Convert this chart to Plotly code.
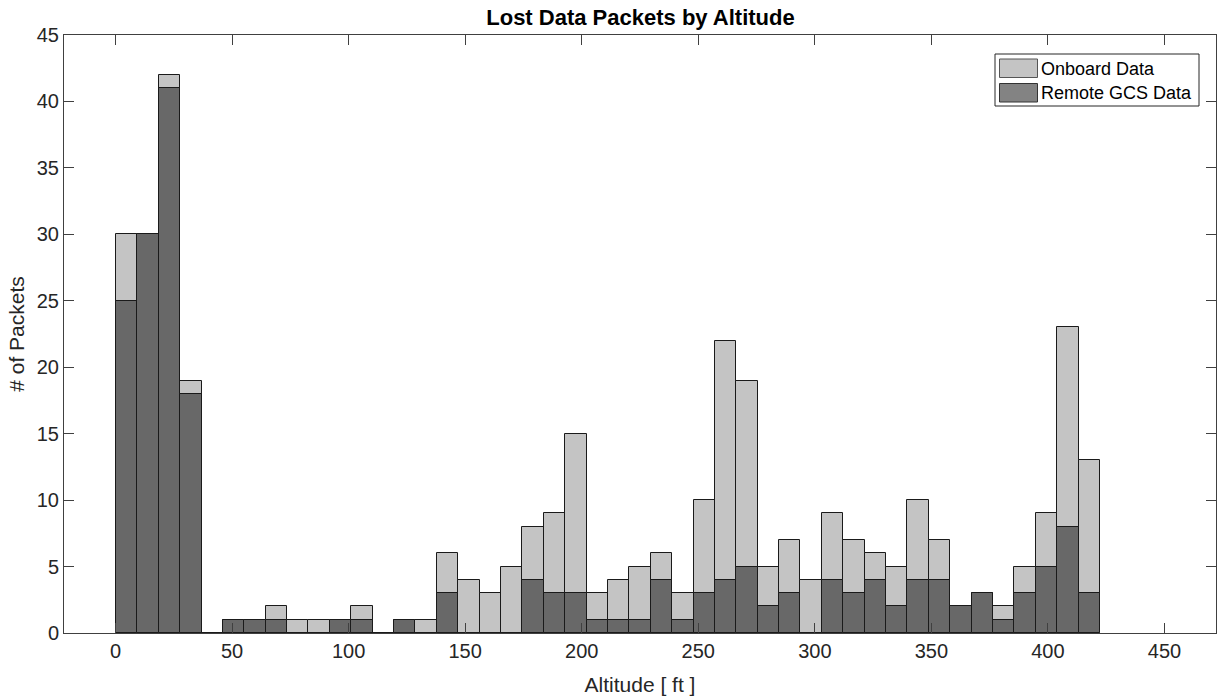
import plotly.graph_objects as go

# ---- data (histogram counts) ----
BIN_START = 0.2      # ft, first bin edge
BIN_WIDTH = 9.176    # ft
onboard_counts = [30, 30, 42, 19, 0, 1, 1, 2, 1, 1, 1, 2, 0, 1, 1, 6, 4, 3, 5, 8,
                  9, 15, 3, 4, 5, 6, 3, 10, 22, 19, 5, 7, 4, 9, 7, 6, 5, 10, 7, 2,
                  3, 2, 5, 9, 23, 13]
remote_counts = [25, 30, 41, 18, 0, 1, 1, 1, 0, 0, 1, 1, 0, 1, 0, 3, 0, 0, 0, 4,
                 3, 3, 1, 1, 1, 4, 1, 3, 4, 5, 2, 3, 0, 4, 3, 4, 2, 4, 4, 2,
                 3, 1, 3, 5, 8, 3]
x_ticks = [0, 50, 100, 150, 200, 250, 300, 350, 400, 450]
y_ticks = [0, 5, 10, 15, 20, 25, 30, 35, 40, 45]
series_names = ["Onboard Data", "Remote GCS Data"]

centers = [BIN_START + (i + 0.5) * BIN_WIDTH for i in range(len(onboard_counts))]

LIGHT = "#c4c4c4"
DARK = "#686868"
DARK_LEG = "#838383"
EDGE = "#1a1a1a"
FONT = "Liberation Sans, Arial, sans-serif"

fig = go.Figure()
fig.add_trace(go.Bar(x=centers, y=onboard_counts, width=BIN_WIDTH, name=series_names[0],
                     marker=dict(color=LIGHT, line=dict(color=EDGE, width=1)),
                     showlegend=False))
fig.add_trace(go.Bar(x=centers, y=remote_counts, width=BIN_WIDTH, name=series_names[1],
                     marker=dict(color=DARK, line=dict(color=EDGE, width=1)),
                     showlegend=False))

W, H = 1225, 698
ML, MR, MT, MB = 64, 9, 35, 65
pw, ph = W - ML - MR, H - MT - MB


def px(xp):
    return (xp - ML) / pw


def py(yp):
    return (H - MB - yp) / ph


shapes = [
    dict(type="rect", xref="paper", yref="paper", x0=px(995), x1=px(1199), y0=py(106), y1=py(54),
         line=dict(color="#262626", width=1), fillcolor="white", layer="above"),
    dict(type="rect", xref="paper", yref="paper", x0=px(999.5), x1=px(1037.5), y0=py(77.5), y1=py(59),
         line=dict(color="#555555", width=1), fillcolor=LIGHT, layer="above"),
    dict(type="rect", xref="paper", yref="paper", x0=px(999.5), x1=px(1037.5), y0=py(102), y1=py(83.5),
         line=dict(color="#333333", width=1), fillcolor=DARK_LEG, layer="above"),
]
annotations = [
    dict(xref="paper", yref="paper", x=px(1039), y=py(68.5), text=series_names[0], showarrow=False,
         xanchor="left", yanchor="middle", font=dict(family=FONT, size=18, color="#000000")),
    dict(xref="paper", yref="paper", x=px(1039), y=py(93), text=series_names[1], showarrow=False,
         xanchor="left", yanchor="middle", font=dict(family=FONT, size=18, color="#000000")),
]

axis_common = dict(showline=True, linecolor="#404040", linewidth=1, mirror="ticks",
                   ticks="inside", ticklen=10, tickwidth=1, tickcolor="#404040",
                   showgrid=False, zeroline=False, automargin=False,
                   tickfont=dict(family=FONT, size=20, color="#262626"))

fig.update_layout(
    width=W, height=H,
    margin=dict(l=ML, r=MR, t=MT, b=MB, pad=0, autoexpand=False),
    paper_bgcolor="white", plot_bgcolor="white",
    barmode="overlay", bargap=0,
    title=dict(text="<b>Lost Data Packets by Altitude</b>", x=px(640.5), xref="paper",
               y=1 - 17 / H, yref="container", xanchor="center", yanchor="middle",
               font=dict(family=FONT, size=22, color="#000000")),
    xaxis=dict(range=[-22.1, 472.1], tickvals=x_ticks, ticktext=[str(v) for v in x_ticks],
               title=dict(text="Altitude [ ft ]", standoff=16,
                          font=dict(family=FONT, size=21, color="#262626")),
               **axis_common),
    yaxis=dict(range=[0, 45], tickvals=y_ticks, ticktext=[str(v) for v in y_ticks],
               title=dict(text="# of Packets", standoff=6,
                          font=dict(family=FONT, size=21, color="#262626")),
               **axis_common),
    shapes=shapes,
    annotations=annotations,
)

fig.write_html("out.html")
